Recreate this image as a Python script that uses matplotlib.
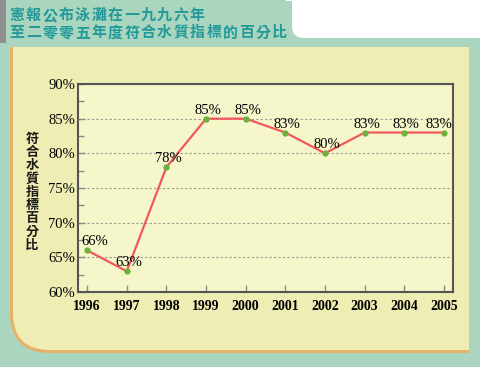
import matplotlib
matplotlib.use("Agg")
import matplotlib.pyplot as plt
from matplotlib.patches import FancyBboxPatch, Rectangle

# data
years = [1996, 1997, 1998, 1999, 2000, 2001, 2002, 2003, 2004, 2005]
percent = [66, 63, 78, 85, 85, 83, 80, 83, 83, 83]
y_ticks = [60, 65, 70, 75, 80, 85, 90]
title_lines = ["憲報公布泳灘在一九九六年", "至二零零五年度符合水質指標的百分比"]
ylabel = "符合水質指標百分比"

teal = "#aad6bf"
cream = "#eeedb4"
plot_bg = "#f6f6cb"
orange = "#e6b26a"
title_col = "#23999a"
cjk = ["Noto Sans CJK TC", "DejaVu Sans"]
serif = ["Liberation Serif", "DejaVu Serif"]

fig = plt.figure(figsize=(4.8, 3.67), dpi=100)
fig.patch.set_facecolor(teal)

# background drawn in pixel units
bg = fig.add_axes([0, 0, 1, 1])
bg.set_xlim(0, 480)
bg.set_ylim(367, 0)
bg.axis("off")

# white area top right
bg.add_patch(FancyBboxPatch((292, -30), 200, 68, boxstyle="round,pad=0,rounding_size=12",
                            fc="white", ec="none"))
bg.add_patch(Rectangle((286, -5), 10, 6, fc="white", ec="none"))
# grey bar at left of title
bg.add_patch(Rectangle((0, 0), 6, 43, fc="#8f8f8f", ec="none"))

# cream panel with orange left/bottom border, rounded bottom-left
bg.add_patch(FancyBboxPatch((10, 47), 459, 306, boxstyle="round,pad=0,rounding_size=40",
                            fc=orange, ec="none"))
bg.add_patch(Rectangle((10, 47), 459, 150, fc=orange, ec="none"))
bg.add_patch(Rectangle((300, 47), 169, 306, fc=orange, ec="none"))
bg.add_patch(FancyBboxPatch((13, 47), 456, 303, boxstyle="round,pad=0,rounding_size=37",
                            fc=cream, ec="none"))
bg.add_patch(Rectangle((13, 47), 456, 150, fc=cream, ec="none"))
bg.add_patch(Rectangle((300, 47), 169, 303, fc=cream, ec="none"))

# title, one char at a time to get the wide spacing
for i, line in enumerate(title_lines):
    for j, ch in enumerate(line):
        bg.text(17 + j * 16.4, 20 + i * 17.5, ch, fontsize=10.8, color=title_col,
                family=cjk, fontweight="bold", va="baseline", ha="center")

# stacked vertical y label
for i, ch in enumerate(ylabel):
    bg.text(32, 139 + i * 13.2, ch, fontsize=9.5, family=cjk, fontweight="bold",
            ha="center", va="center", color="#1a1a1a")

ax = fig.add_axes([78 / 480, (367 - 292) / 367, 375 / 480, 208 / 367])
ax.set_facecolor(plot_bg)
ax.set_xlim(1995.77, 2005.23)
ax.set_ylim(60, 90)
ax.set_yticks(y_ticks)
ax.set_yticks([62.5, 67.5, 72.5, 77.5, 82.5, 87.5], minor=True)
ax.set_yticklabels([f"{v}%" for v in y_ticks], fontsize=10.5, family=serif)
ax.set_xticks(years)
ax.set_xticklabels([str(y) for y in years], fontsize=10, family=serif, fontweight="bold")
ax.tick_params(axis="both", direction="in", color="#888888", length=5, width=1)
ax.tick_params(axis="y", which="minor", direction="in", color="#888888", length=4, width=1)
ax.tick_params(axis="y", pad=2)
ax.tick_params(axis="x", pad=6)
for s in ax.spines.values():
    s.set_color("#555555")
    s.set_linewidth(1.5)
ax.grid(axis="y", which="major", color="#9a9a8c", linestyle=(0, (2, 2)), linewidth=0.8)
ax.set_axisbelow(True)

ax.plot(years, percent, color="#f0585c", linewidth=1.6, zorder=3)
ax.plot(years, percent, linestyle="none", marker="o", markersize=4.5,
        color="#6ab23a", markeredgewidth=0, zorder=4)

for i, (x, v) in enumerate(zip(years, percent)):
    if i == 0:
        dx = 8
    elif i == len(years) - 1:
        dx = -5
    else:
        dx = 2
    ax.annotate(f"{v}%", (x, v), xytext=(dx, 5), textcoords="offset pixels",
                ha="center", va="baseline", fontsize=10.5, family=serif, zorder=5)

fig.savefig("out.png", dpi=100, facecolor=fig.get_facecolor())
